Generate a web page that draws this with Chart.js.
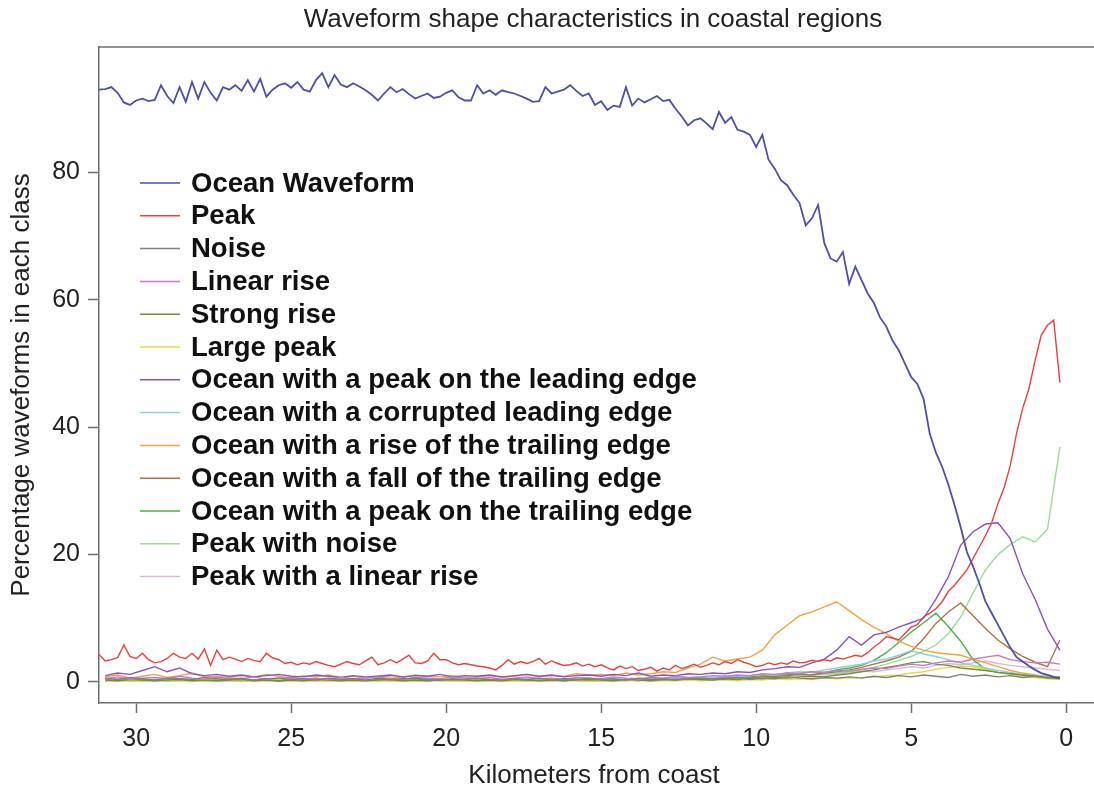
<!DOCTYPE html>
<html>
<head>
<meta charset="utf-8">
<title>Waveform shape characteristics in coastal regions</title>
<script src="https://cdn.jsdelivr.net/npm/chart.js@4.4.1/dist/chart.umd.min.js"></script>
<style>
  html, body { margin: 0; padding: 0; background: #fff; }
  #wrap { width: 1094px; height: 793px; }
</style>
</head>
<body>
<div id="wrap"><canvas id="coastChart"></canvas></div>
<script>
const FONT = '"Liberation Sans", Arial, Helvetica, sans-serif';

const chartTitle = 'Waveform shape characteristics in coastal regions';
const xTitle = 'Kilometers from coast';
const yTitle = 'Percentage waveforms in each class';
const xTicks = [30, 25, 20, 15, 10, 5, 0];
const yTicks = [0, 20, 40, 60, 80];

// sample positions in km from the coast
const kmFine = Array.from({ length: 156 }, (_, i) => +(31.2 - i * 0.2).toFixed(1));
const kmCoarse = Array.from({ length: 78 }, (_, i) => +(31.0 - i * 0.4).toFixed(1));

const classNames = [
    'Ocean Waveform',
    'Peak',
    'Noise',
    'Linear rise',
    'Strong rise',
    'Large peak',
    'Ocean with a peak on the leading edge',
    'Ocean with a corrupted leading edge',
    'Ocean with a rise of the trailing edge',
    'Ocean with a fall of the trailing edge',
    'Ocean with a peak on the trailing edge',
    'Peak with noise',
    'Peak with a linear rise'
];

const classColors = [
    '#4e4fa6', '#e8413c', '#808080', '#c77ac4', '#6f8f3c', '#e6dc48', '#8c52bd',
    '#86d2e2', '#f2a341', '#b07048', '#47b24a', '#98dc98', '#d8bcd2'
];

// percentages on kmFine
const oceanWaveform = [
    93.0, 93.1, 93.4, 92.5, 91.0, 90.6, 91.3, 91.6, 91.2, 91.4,
    93.7, 92.0, 90.9, 93.4, 91.1, 94.2, 91.6, 94.2, 92.5, 91.3,
    93.4, 93.0, 93.7, 92.8, 94.5, 92.7, 94.7, 91.9, 93.0, 93.7,
    94.0, 93.3, 94.2, 93.0, 92.7, 94.5, 95.6, 93.4, 95.3, 93.8,
    93.4, 94.0, 93.5, 92.9, 92.2, 91.3, 92.4, 93.4, 92.6, 93.1,
    92.3, 91.6, 92.0, 92.4, 91.7, 91.9, 92.5, 92.9, 91.8, 91.3,
    91.3, 93.7, 92.4, 92.9, 92.2, 92.9, 92.6, 92.4, 92.0, 91.6,
    91.1, 91.2, 93.4, 92.4, 92.7, 93.0, 93.7, 92.8, 92.0, 92.4,
    90.6, 91.2, 89.8, 90.5, 90.3, 93.4, 90.5, 91.6, 91.0, 91.5,
    92.0, 91.2, 91.4, 90.0, 88.8, 87.4, 88.2, 88.5, 87.7, 86.8,
    89.5, 87.8, 88.7, 86.7, 86.4, 85.9, 84.0, 85.9, 82.0, 80.6,
    78.8, 78.0, 76.5, 75.2, 71.7, 72.8, 74.9, 68.9, 66.5, 66.0,
    67.5, 62.5, 65.2, 63.1, 61.0, 59.5, 57.2, 55.8, 53.6, 52.1,
    50.0, 47.9, 46.8, 44.5, 39.0, 36.0, 33.8, 31.0, 27.8, 24.3,
    20.4, 18.1, 15.5, 12.6, 10.8, 9.0, 7.2, 5.4, 3.9, 3.2,
    2.5, 1.9, 1.4, 1.1, 0.8, 0.6
];
const peak = [
    4.3, 3.3, 3.5, 3.8, 5.8, 4.0, 3.7, 4.5, 3.5, 3.0,
    3.2, 3.7, 4.5, 3.9, 3.7, 4.5, 3.6, 5.2, 2.6, 5.0,
    3.5, 3.9, 3.6, 3.2, 3.7, 3.4, 3.2, 4.5, 3.8, 3.5,
    2.9, 3.1, 2.7, 3.0, 2.8, 3.2, 2.9, 2.6, 2.4, 2.8,
    3.2, 2.9, 2.7, 3.3, 3.9, 2.7, 3.0, 3.5, 3.0, 3.6,
    4.2, 3.0, 2.9, 3.3, 4.5, 3.5, 3.5, 3.0, 2.7, 2.9,
    2.7, 2.5, 2.4, 2.2, 1.9, 2.6, 3.5, 2.8, 3.2, 2.9,
    3.2, 3.7, 2.8, 3.3, 2.9, 2.6, 2.7, 3.0, 2.5, 2.8,
    2.4, 2.7, 2.2, 1.9, 2.5, 2.1, 2.4, 1.8, 2.0, 2.3,
    1.7, 2.2, 1.9, 2.6, 2.1, 2.4, 2.8, 2.3, 2.6, 3.0,
    2.7, 3.2, 2.9, 3.5, 3.1, 2.8, 2.4, 2.6, 3.0, 2.7,
    3.0, 2.8, 3.3, 3.0, 3.1, 3.4, 3.2, 3.5, 3.3, 3.8,
    3.6, 3.9, 4.2, 4.0, 4.6, 5.5, 6.2, 7.1, 6.9, 6.6,
    7.6, 8.6, 9.0, 10.2, 10.8, 11.5, 12.6, 14.2, 15.2, 16.4,
    17.6, 19.4, 21.2, 23.0, 25.0, 28.0, 30.5, 34.0, 39.0, 43.0,
    46.0, 50.5, 54.5, 56.0, 56.8, 47.0
];

// percentages on kmCoarse
const noise = [
    0.6, 0.4, 0.7, 0.5, 0.3, 0.6, 0.5, 0.4, 0.7, 0.5,
    0.4, 0.6, 0.3, 0.5, 0.6, 0.4, 0.5, 0.3, 0.6, 0.4,
    0.5, 0.3, 0.6, 0.4, 0.5, 0.6, 0.4, 0.3, 0.5, 0.4,
    0.6, 0.4, 0.3, 0.5, 0.4, 0.6, 0.3, 0.5, 0.4, 0.6,
    0.4, 0.5, 0.3, 0.6, 0.4, 0.5, 0.3, 0.5, 0.6, 0.4,
    0.5, 0.7, 0.4, 0.6, 0.5, 0.8, 0.6, 0.5, 0.7, 0.6,
    0.8, 0.6, 0.9, 0.7, 1.0, 0.8, 1.1, 0.9, 0.7, 1.2,
    0.9, 1.1, 0.8, 1.0, 0.7, 0.9, 0.6, 0.8
];
const linearRise = [
    0.5, 0.8, 0.4, 0.6, 0.7, 0.5, 0.9, 0.6, 0.4, 0.7,
    0.6, 0.5, 0.8, 0.4, 0.6, 0.7, 0.5, 0.6, 0.4, 0.7,
    0.5, 0.6, 0.8, 0.5, 0.4, 0.7, 0.6, 0.5, 0.8, 0.6,
    0.5, 0.7, 0.4, 0.6, 0.8, 0.5, 0.6, 0.4, 0.7, 0.6,
    0.5, 0.8, 0.6, 0.5, 0.7, 0.6, 0.9, 0.7, 0.8, 1.0,
    0.9, 1.1, 1.0, 1.3, 1.2, 1.4, 1.3, 1.6, 1.5, 1.8,
    1.7, 2.0, 2.2, 2.1, 2.5, 2.8, 2.6, 3.0, 3.3, 3.1,
    3.6, 3.9, 4.2, 3.5, 3.2, 3.0, 3.1, 2.8
];
const strongRise = [
    0.3, 0.2, 0.4, 0.3, 0.2, 0.3, 0.4, 0.2, 0.3, 0.2,
    0.3, 0.4, 0.2, 0.3, 0.2, 0.3, 0.2, 0.4, 0.3, 0.2,
    0.3, 0.2, 0.3, 0.4, 0.2, 0.3, 0.2, 0.3, 0.4, 0.3,
    0.2, 0.3, 0.2, 0.4, 0.3, 0.2, 0.3, 0.2, 0.3, 0.4,
    0.3, 0.2, 0.4, 0.3, 0.2, 0.4, 0.3, 0.5, 0.4, 0.3,
    0.5, 0.4, 0.6, 0.5, 0.7, 0.6, 0.8, 0.9, 0.8, 1.1,
    1.3, 1.6, 1.9, 2.3, 2.6, 3.0, 3.2, 2.8, 2.6, 2.2,
    2.0, 1.8, 1.5, 1.3, 1.1, 0.9, 0.7, 0.5
];
const largePeak = [
    0.2, 0.1, 0.2, 0.1, 0.2, 0.3, 0.1, 0.2, 0.1, 0.2,
    0.1, 0.2, 0.1, 0.2, 0.3, 0.1, 0.2, 0.1, 0.2, 0.1,
    0.2, 0.1, 0.2, 0.1, 0.2, 0.1, 0.3, 0.2, 0.1, 0.2,
    0.1, 0.2, 0.1, 0.2, 0.1, 0.2, 0.1, 0.3, 0.2, 0.1,
    0.2, 0.1, 0.2, 0.3, 0.1, 0.2, 0.2, 0.3, 0.2, 0.3,
    0.3, 0.2, 0.4, 0.3, 0.5, 0.4, 0.5, 0.4, 0.6, 0.5,
    0.6, 0.7, 0.8, 1.0, 1.1, 1.4, 1.6, 2.0, 2.3, 2.5,
    2.4, 2.0, 1.5, 1.2, 0.9, 0.7, 0.5, 0.4
];
const leadingPeak = [
    1.0, 1.4, 1.2, 1.8, 2.4, 1.6, 2.2, 1.3, 1.0, 1.2,
    0.9, 1.1, 0.8, 1.0, 1.2, 0.9, 0.8, 1.1, 0.9, 0.7,
    1.0, 0.8, 0.9, 1.1, 0.8, 1.0, 0.9, 1.2, 0.8, 1.0,
    0.9, 1.1, 0.8, 1.0, 1.2, 0.9, 1.1, 0.8, 1.0, 1.1,
    0.9, 1.2, 1.0, 1.4, 0.9, 1.1, 1.0, 1.3, 1.2, 1.4,
    1.3, 1.6, 1.5, 1.9, 2.1, 2.4, 2.3, 3.0, 3.6, 5.0,
    7.1, 5.8, 7.4, 7.8, 8.6, 9.3, 10.0, 13.0, 16.5, 21.5,
    23.6, 24.8, 25.0, 22.5, 17.0, 13.0, 8.3, 5.0
];
const corruptedLeading = [
    0.3, 0.5, 0.2, 0.4, 0.3, 0.5, 0.3, 0.2, 0.4, 0.3,
    0.2, 0.4, 0.3, 0.5, 0.3, 0.2, 0.4, 0.3, 0.2, 0.4,
    0.3, 0.5, 0.2, 0.3, 0.4, 0.3, 0.2, 0.4, 0.3, 0.5,
    0.3, 0.2, 0.4, 0.3, 0.5, 0.3, 0.4, 0.2, 0.3, 0.4,
    0.3, 0.5, 0.4, 0.3, 0.6, 0.5, 0.7, 0.6, 0.8, 0.7,
    0.9, 0.8, 1.0, 1.2, 1.1, 1.4, 1.6, 1.5, 1.9, 2.2,
    2.5, 2.8, 3.3, 3.6, 4.2, 4.9, 4.4, 4.0, 3.5, 3.0,
    2.6, 2.2, 1.8, 1.5, 1.2, 1.0, 0.8, 0.6
];
const trailingRise = [
    0.8, 1.1, 0.6, 0.9, 1.2, 0.7, 1.0, 1.4, 0.8, 0.9,
    0.7, 1.0, 0.8, 1.2, 0.9, 0.6, 1.0, 0.8, 1.1, 0.7,
    0.9, 0.6, 1.0, 0.8, 0.7, 1.1, 0.9, 0.8, 1.0, 0.7,
    0.8, 1.0, 0.7, 0.9, 1.2, 0.8, 1.0, 0.9, 1.3, 1.1,
    1.2, 1.0, 1.4, 1.1, 1.3, 1.6, 1.5, 2.2, 2.8, 3.9,
    3.3, 3.6, 3.9, 5.0, 7.4, 8.9, 10.4, 11.0, 11.8, 12.6,
    11.2, 9.8, 8.6, 7.6, 6.4, 5.6, 5.0, 4.6, 4.4, 4.2,
    3.6, 3.0, 2.4, 1.8, 1.4, 1.1, 0.9, 0.7
];
const trailingFall = [
    0.3, 0.2, 0.4, 0.3, 0.2, 0.3, 0.4, 0.2, 0.3, 0.2,
    0.4, 0.3, 0.2, 0.3, 0.2, 0.4, 0.3, 0.2, 0.3, 0.4,
    0.2, 0.3, 0.4, 0.2, 0.3, 0.2, 0.3, 0.4, 0.2, 0.3,
    0.3, 0.2, 0.4, 0.3, 0.2, 0.3, 0.2, 0.4, 0.3, 0.2,
    0.3, 0.4, 0.3, 0.2, 0.4, 0.3, 0.5, 0.4, 0.6, 0.5,
    0.6, 0.7, 0.6, 0.8, 0.9, 1.0, 1.2, 1.1, 1.4, 1.6,
    1.9, 2.3, 2.8, 3.3, 3.9, 4.8, 6.8, 9.2, 11.0, 12.4,
    10.4, 8.4, 6.6, 5.2, 4.0, 3.1, 2.4, 6.6
];
const trailingPeak = [
    0.2, 0.3, 0.4, 0.2, 0.3, 0.2, 0.4, 0.3, 0.2, 0.3,
    0.3, 0.2, 0.3, 0.4, 0.2, 0.3, 0.2, 0.3, 0.4, 0.2,
    0.3, 0.4, 0.2, 0.3, 0.2, 0.3, 0.4, 0.2, 0.3, 0.2,
    0.4, 0.3, 0.2, 0.3, 0.4, 0.2, 0.3, 0.2, 0.4, 0.3,
    0.2, 0.3, 0.4, 0.3, 0.5, 0.4, 0.6, 0.5, 0.7, 0.6,
    0.7, 0.9, 0.8, 1.0, 1.2, 1.1, 1.4, 1.6, 1.5, 1.9,
    2.2, 2.6, 3.4, 4.6, 6.2, 7.8, 9.3, 10.8, 8.7, 6.4,
    3.5, 2.0, 1.5, 1.3, 1.1, 0.9, 0.8, 0.6
];
const peakWithNoise = [
    0.2, 0.3, 0.1, 0.2, 0.3, 0.2, 0.1, 0.3, 0.2, 0.1,
    0.2, 0.1, 0.3, 0.2, 0.1, 0.2, 0.3, 0.1, 0.2, 0.3,
    0.1, 0.2, 0.3, 0.2, 0.1, 0.2, 0.1, 0.3, 0.2, 0.2,
    0.3, 0.1, 0.2, 0.2, 0.3, 0.1, 0.2, 0.3, 0.2, 0.1,
    0.2, 0.3, 0.2, 0.4, 0.3, 0.4, 0.3, 0.5, 0.4, 0.6,
    0.5, 0.7, 0.6, 0.8, 0.7, 0.9, 1.0, 1.2, 1.1, 1.4,
    1.6, 1.9, 2.3, 2.8, 3.4, 4.0, 4.8, 5.8, 7.6, 10.2,
    14.0, 17.6, 20.0, 21.6, 22.8, 22.0, 24.0, 36.9
];
const peakLinearRise = [
    0.4, 0.3, 0.5, 0.2, 0.4, 0.3, 0.5, 0.4, 0.2, 0.3,
    0.5, 0.3, 0.4, 0.2, 0.3, 0.5, 0.4, 0.3, 0.2, 0.4,
    0.3, 0.5, 0.2, 0.4, 0.3, 0.4, 0.5, 0.3, 0.2, 0.4,
    0.3, 0.4, 0.2, 0.5, 0.3, 0.4, 0.3, 0.2, 0.4, 0.3,
    0.4, 0.3, 0.5, 0.4, 0.3, 0.5, 0.4, 0.6, 0.5, 0.7,
    0.6, 0.8, 0.7, 0.9, 1.0, 0.9, 1.1, 1.2, 1.4, 1.3,
    1.5, 1.7, 1.6, 1.9, 2.1, 2.4, 2.2, 2.6, 2.9, 2.7,
    3.0, 3.3, 2.9, 2.6, 2.4, 2.2, 2.0, 1.8
];

const classSeries = [
    [kmFine, oceanWaveform],
    [kmFine, peak],
    [kmCoarse, noise],
    [kmCoarse, linearRise],
    [kmCoarse, strongRise],
    [kmCoarse, largePeak],
    [kmCoarse, leadingPeak],
    [kmCoarse, corruptedLeading],
    [kmCoarse, trailingRise],
    [kmCoarse, trailingFall],
    [kmCoarse, trailingPeak],
    [kmCoarse, peakWithNoise],
    [kmCoarse, peakLinearRise]
];

const datasets = classNames.map((name, k) => {
    const [xs, ys] = classSeries[k];
    return {
        label: name,
        data: xs.map((x, i) => ({ x: x, y: ys[i] })),
        borderColor: classColors[k],
        borderWidth: k === 0 ? 1.8 : 1.4,
        pointRadius: 0,
        tension: 0,
        fill: false
    };
});

// title, axis titles, top frame edge and the legend inside the plot
const plotText = {
    id: 'plotText',
    afterDraw(chart) {
        const { ctx, chartArea } = chart;
        ctx.save();

        ctx.strokeStyle = '#6f6f6f';
        ctx.lineWidth = 1.5;
        ctx.beginPath();
        ctx.moveTo(chartArea.left, chartArea.top);
        ctx.lineTo(chartArea.right, chartArea.top);
        ctx.stroke();

        ctx.fillStyle = '#222';
        ctx.textAlign = 'center';
        ctx.textBaseline = 'middle';
        ctx.font = `26px ${FONT}`;
        ctx.fillText(chartTitle, 593, 20);

        ctx.fillText(xTitle, 594, 776);

        ctx.translate(22, 385);
        ctx.rotate(-Math.PI / 2);
        ctx.fillText(yTitle, 0, 0);
        ctx.setTransform(1, 0, 0, 1, 0, 0);

        ctx.font = `bold 27.5px ${FONT}`;
        ctx.textAlign = 'left';
        const x0 = chartArea.left + 41;
        chart.data.datasets.forEach((ds, i) => {
            const y = chartArea.top + 136 + i * 32.8;
            ctx.strokeStyle = ds.borderColor;
            ctx.lineWidth = 1.5;
            ctx.beginPath();
            ctx.moveTo(x0, y);
            ctx.lineTo(x0 + 40, y);
            ctx.stroke();
            ctx.fillStyle = '#111';
            ctx.fillText(ds.label, x0 + 51, y + 1);
        });
        ctx.restore();
    }
};

const tickFont = { family: FONT, size: 25 };

new Chart(document.getElementById('coastChart'), {
    type: 'line',
    data: { datasets: datasets },
    options: {
        responsive: true,
        maintainAspectRatio: false,
        animation: false,
        events: [],
        layout: { padding: { top: 47, right: 0, left: 0, bottom: 0 } },
        plugins: {
            legend: { display: false },
            title: { display: false },
            tooltip: { enabled: false }
        },
        scales: {
            x: {
                type: 'linear',
                reverse: true,
                min: -0.9,
                max: 31.2,
                afterBuildTicks: scale => { scale.ticks = xTicks.map(v => ({ value: v })); },
                afterFit: scale => { scale.height = 90; },
                grid: { drawOnChartArea: false, tickLength: 10, tickColor: '#6f6f6f', tickWidth: 1.5 },
                border: { color: '#6f6f6f', width: 1.5 },
                ticks: { font: tickFont, color: '#222', padding: 11, maxRotation: 0 }
            },
            y: {
                min: -3.3,
                max: 99.7,
                afterBuildTicks: scale => { scale.ticks = yTicks.map(v => ({ value: v })); },
                afterFit: scale => { scale.width = 99; },
                grid: { drawOnChartArea: false, tickLength: 11, tickColor: '#6f6f6f', tickWidth: 1.5 },
                border: { color: '#6f6f6f', width: 1.5 },
                ticks: { font: tickFont, color: '#222', padding: 8 }
            }
        }
    },
    plugins: [plotText]
});
</script>
</body>
</html>
